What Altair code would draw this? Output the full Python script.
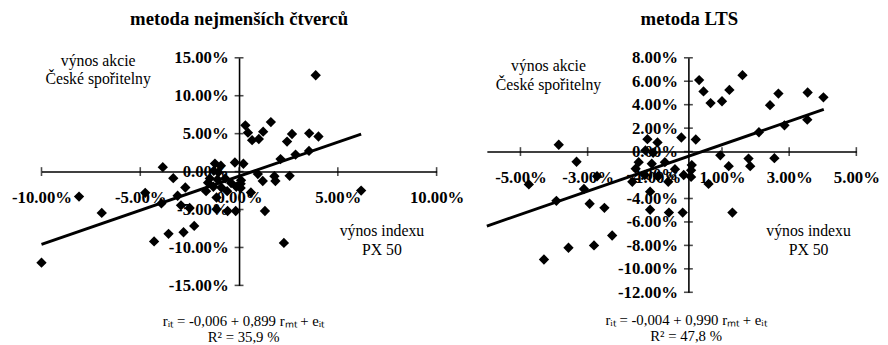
import altair as alt
import pandas as pd

# returns in % : points shown in both panels
common_x = [0.32, 0.45, 0.66, 1.00, 1.22, 1.61, 2.43, 2.68, 3.55, 4.02,
            2.10, 2.86, 3.54, 0.22, -0.21, 0.95, 1.20, 1.79, 1.84, 2.56,
            0.60, 1.31, -3.86, -3.33, -4.75, -2.72, -3.11, -3.93, -2.94, -2.50,
            -2.27, -2.81, -3.57, -4.30, -1.14, -1.14, -0.58, -0.17, -1.67,
            -1.22, -0.92, -1.28, -1.05, -1.48, -1.57, -1.09, -0.70, -0.14, 0.08,
            -0.60, 0.08, -0.90, -1.30, -0.40, 0.10]
common_y = [6.10, 5.13, 4.14, 4.29, 5.26, 6.52, 3.96, 4.95, 5.04, 4.63,
            1.65, 2.24, 2.72, 1.03, 1.20, -0.32, -1.24, -0.60, -1.24, -0.56,
            -2.76, -5.20, 0.58, -0.87, -2.80, -2.10, -3.19, -4.20, -4.45, -4.80,
            -7.16, -8.00, -8.20, -9.20, -3.42, -4.96, -5.20, -5.20, -2.58,
            1.06, 0.78, 0.10, -0.10, -0.90, -1.46, -1.04, -0.90, -2.00, -2.16,
            -2.58, -1.60, -2.10, -2.00, -1.50, -1.15]
# points shown only in the least-squares panel
ols_only_x = [-10.0, -8.10, -6.95, 3.88, 6.18, 2.27]
ols_only_y = [-12.0, -3.30, -5.45, 12.70, -2.50, -9.40]

# fitted lines (end points)
ols_line_x = [-10.0, 6.18]
ols_line_y = [-9.6, 4.95]
lts_line_x = [-6.0, 4.03]
lts_line_y = [-6.35, 3.6]

ols_xticks = [-10, -5, 0, 5, 10]
ols_yticks = [-15, -10, -5, 0, 5, 10, 15]
lts_xticks = [-5, -3, -1, 1, 3, 5]
lts_yticks = [-12, -10, -8, -6, -4, -2, 0, 2, 4, 6, 8]

titles = ["metoda nejmenších čtverců", "metoda LTS"]
ylab = ["výnos akcie", "České spořitelny"]
xlab = ["výnos indexu", "PX 50"]
eq_ols = ["rᵢₜ = -0,006 + 0,899 rₘₜ + eᵢₜ", "R² = 35,9 %"]
eq_lts = ["rᵢₜ = -0,004 + 0,990 rₘₜ + eᵢₜ", "R² = 47,8 %"]

SERIF = "Liberation Serif"
LAB = "(datum.value < 0 ? '-' : '') + format(abs(datum.value), '.2f') + '%'"


def panel(px, py, lx, ly, xdom, ydom, xticks, yticks, W, H, title, tdx,
          toff, ytx, yty, xtx, xty, eq, eqdx, eqoff):
    zero_y = H * ydom[1] / (ydom[1] - ydom[0])
    zero_x = W * (-xdom[0]) / (xdom[1] - xdom[0])
    xs = alt.Scale(domain=xdom, nice=False, zero=False)
    ys = alt.Scale(domain=ydom, nice=False, zero=False)
    common = dict(domainColor="black", domainWidth=1.6, ticks=False, grid=False,
                  labelExpr=LAB, labelFont=SERIF, labelFontSize=17,
                  labelFontWeight="bold", labelColor="black", labelOverlap=False,
                  labelFlush=False, titleAngle=0, titleAlign="center",
                  titleBaseline="top", titleFont=SERIF, titleFontSize=16,
                  titleFontWeight="normal", titleColor="black", titleLineHeight=19)
    xax = alt.Axis(values=xticks, orient="bottom", offset=-(H - zero_y),
                   labelPadding=18, title=xlab, titleX=xtx, titleY=xty, **common)
    yax = alt.Axis(values=yticks, orient="left", offset=-zero_x,
                   labelPadding=11, title=ylab, titleX=ytx, titleY=yty, **common)

    pts = pd.DataFrame({"x": px, "y": py})
    line = pd.DataFrame({"x": lx, "y": ly})
    xt = pd.DataFrame({"x": xticks, "y": [0] * len(xticks)})
    yt = pd.DataFrame({"y": yticks, "x": [0] * len(yticks)})

    def enc(ch):
        return ch.encode(x=alt.X("x:Q", scale=xs, axis=xax),
                         y=alt.Y("y:Q", scale=ys, axis=yax))

    l_xt = enc(alt.Chart(xt).mark_tick(orient="vertical", size=9, thickness=1.6, color="black"))
    l_yt = enc(alt.Chart(yt).mark_tick(orient="horizontal", size=9, thickness=1.6, color="black"))
    l_pts = enc(alt.Chart(pts).mark_point(shape="diamond", filled=True, size=110,
                                          color="black", opacity=1))
    l_line = enc(alt.Chart(line).mark_line(color="black", strokeWidth=3))

    lay = alt.layer(l_xt, l_yt, l_pts, l_line).properties(
        width=W, height=H,
        title=alt.TitleParams(title, anchor="middle", frame="group",
                              baseline="alphabetic", offset=toff, dx=tdx,
                              font=SERIF, fontSize=19, fontWeight="bold",
                              color="black"))
    return alt.hconcat(lay, title=alt.TitleParams(
        eq, orient="bottom", anchor="middle", font=SERIF, fontSize=15,
        fontWeight="normal", color="black", offset=eqoff, dx=eqdx, lineHeight=16))


left = panel(common_x + ols_only_x, common_y + ols_only_y, ols_line_x, ols_line_y,
             [-10, 10], [-15, 15], ols_xticks, ols_yticks, 401, 231,
             titles[0], 0, 5, -143.5, -5.6, 345, 52, eq_ols, 6, 21)
right = panel(common_x, common_y, lts_line_x, lts_line_y,
              [-6, 5], [-12, 8], lts_xticks, lts_yticks, 375, 238,
              titles[1], 18, 5, -142.5, 0, 326, 72, eq_lts, 6, 13)

chart = alt.hconcat(left, right, spacing=17).properties(
    padding={"left": 3, "top": 0, "right": 0, "bottom": 0}
).configure_view(stroke=None)

chart.save("out.html", embed_options={"renderer": "svg", "actions": False})
